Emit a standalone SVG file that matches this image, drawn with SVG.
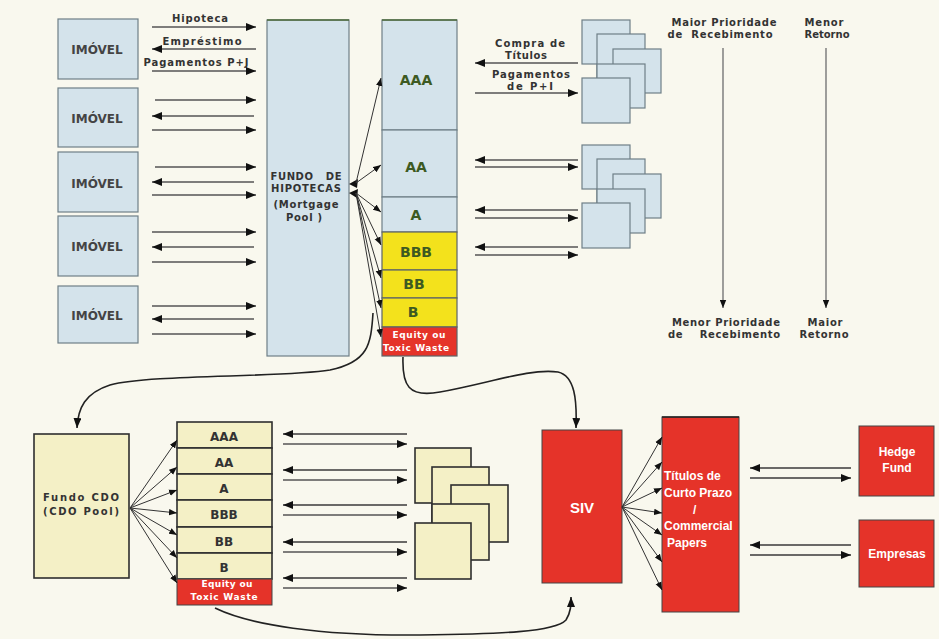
<svg xmlns="http://www.w3.org/2000/svg" width="939" height="639" viewBox="0 0 939 639">
  <defs>
    <marker id="ah" viewBox="0 0 10 8" refX="10" refY="4" markerWidth="10" markerHeight="8" markerUnits="userSpaceOnUse" orient="auto">
      <path d="M0,0 L10,4 L0,8 z" fill="#111"/>
    </marker>
    <marker id="ahs" viewBox="0 0 10 8" refX="10" refY="4" markerWidth="8" markerHeight="7" markerUnits="userSpaceOnUse" orient="auto">
      <path d="M0,0 L10,4 L0,8 z" fill="#111"/>
    </marker>
    <style>
      .lbl { font-family: "DejaVu Sans", Verdana, sans-serif; font-weight: bold; font-size: 10px; fill: #333; }
      .pre { white-space: pre; }
      .imv { font-family: "DejaVu Sans", Verdana, sans-serif; font-weight: bold; font-size: 12px; fill: #444; text-anchor: middle; }
      .blue { fill: #d4e3eb; stroke: #6e7f87; stroke-width: 1.2; }
      .yel { fill: #f3e21c; stroke: #5d6468; stroke-width: 1.2; }
      .red { fill: #e53329; stroke: #5d6468; stroke-width: 1.2; }
      .pale { fill: #f4f0c6; stroke: #2e2e2e; stroke-width: 1.6; }
      .redb { fill: #e53329; stroke: #444; stroke-width: 1; }
      .tr { font-family: "DejaVu Sans", Verdana, sans-serif; font-size: 14px; font-weight: bold; fill: #3d5a22; text-anchor: middle; }
      .tr2 { font-family: "DejaVu Sans", Verdana, sans-serif; font-size: 12px; font-weight: bold; fill: #333; text-anchor: middle; }
      .eq { font-family: "DejaVu Sans", Verdana, sans-serif; font-size: 9px; font-weight: bold; fill: #fff; text-anchor: middle; }
      .wt { font-family: "Liberation Sans", Arial, sans-serif; font-weight: bold; fill: #fff; }
      .ln { fill: none; stroke: #3a3a3a; stroke-width: 1.3; marker-end: url(#ah); }
      .lg { fill: none; stroke: #555; stroke-width: 1.3; marker-end: url(#ah); }
      .fan { fill: none; stroke: #333; stroke-width: 1; marker-end: url(#ahs); }
      .cv { fill: none; stroke: #222; stroke-width: 1.6; marker-end: url(#ah); }
      .vt { fill: none; stroke: #777; stroke-width: 1.4; marker-end: url(#ahs); }
    </style>
  </defs>

  <rect x="0" y="0" width="939" height="639" fill="#f9f8ee"/>

  <!-- properties -->
  <g id="imovel1"><rect class="blue" x="58" y="19" width="80" height="60"/><text class="imv" x="97" y="54">IMÓVEL</text></g>
  <g id="imovel2"><rect class="blue" x="58" y="88" width="80" height="59"/><text class="imv" x="97" y="123">IMÓVEL</text></g>
  <g id="imovel3"><rect class="blue" x="58" y="152" width="80" height="60"/><text class="imv" x="97" y="188">IMÓVEL</text></g>
  <g id="imovel4"><rect class="blue" x="58" y="216" width="80" height="60"/><text class="imv" x="97" y="251">IMÓVEL</text></g>
  <g id="imovel5"><rect class="blue" x="58" y="286" width="80" height="57"/><text class="imv" x="97" y="320">IMÓVEL</text></g>

  <!-- mortgage pool -->
  <g id="fundo-hipotecas">
    <rect class="blue" x="267" y="20" width="82" height="336"/>
    <line x1="267" y1="20" x2="349" y2="20" stroke="#4d6a3a" stroke-width="1.4"/>
    <text class="lbl pre" x="306" y="180" text-anchor="middle" textLength="71">FUNDO   DE</text>
    <text class="lbl" x="306" y="192" text-anchor="middle" textLength="70">HIPOTECAS</text>
    <text class="lbl" x="306" y="208" text-anchor="middle" textLength="65">(Mortgage</text>
    <text class="lbl" x="304" y="221" text-anchor="middle" textLength="36">Pool )</text>
  </g>

  <!-- tranches of the mortgage pool -->
  <g id="tranches-mbs">
    <rect class="blue" x="382" y="20" width="75" height="110"/>
    <line x1="382" y1="20" x2="457" y2="20" stroke="#4d6a3a" stroke-width="1.4"/>
    <rect class="blue" x="382" y="130" width="75" height="67"/>
    <rect class="blue" x="382" y="197" width="75" height="35"/>
    <rect class="yel" x="382" y="232" width="75" height="38"/>
    <rect class="yel" x="382" y="270" width="75" height="28"/>
    <rect class="yel" x="382" y="298" width="75" height="29"/>
    <rect class="red" x="382" y="327" width="75" height="29"/>
    <text class="tr" x="416" y="85">AAA</text>
    <text class="tr" x="416" y="172">AA</text>
    <text class="tr" x="416" y="220">A</text>
    <text class="tr" x="416" y="257" fill="#333">BBB</text>
    <text class="tr" x="414" y="289" fill="#333">BB</text>
    <text class="tr" x="413" y="317" fill="#333">B</text>
    <text class="eq" x="419" y="338" textLength="53">Equity ou</text>
    <text class="eq" x="416" y="351" textLength="66">Toxic Waste</text>
  </g>

  <!-- investor groups (top) -->
  <g id="investidores-1" class="blue">
    <rect x="582" y="20" width="48" height="44"/>
    <rect x="597" y="34" width="48" height="44"/>
    <rect x="613" y="49" width="48" height="44"/>
    <rect x="597" y="64" width="48" height="44"/>
    <rect x="582" y="78" width="48" height="45"/>
  </g>
  <g id="investidores-2" class="blue">
    <rect x="582" y="145" width="48" height="44"/>
    <rect x="597" y="159" width="48" height="44"/>
    <rect x="613" y="174" width="48" height="44"/>
    <rect x="597" y="189" width="48" height="44"/>
    <rect x="582" y="203" width="48" height="45"/>
  </g>

  <!-- priority / return scales -->
  <g id="escala-prioridade">
    <text class="lbl" x="724" y="26" text-anchor="middle" textLength="105">Maior Prioridade</text>
    <text class="lbl pre" x="720" y="38" text-anchor="middle" textLength="105">de  Recebimento</text>
    <text class="lbl" x="726" y="326" text-anchor="middle" textLength="108">Menor Prioridade</text>
    <text class="lbl pre" x="724" y="338" text-anchor="middle" textLength="112">de    Recebimento</text>
  </g>
  <g id="escala-retorno">
    <text class="lbl" x="824" y="26" text-anchor="middle" textLength="39">Menor</text>
    <text class="lbl" x="827" y="38" text-anchor="middle" textLength="45">Retorno</text>
    <text class="lbl" x="825" y="326" text-anchor="middle" textLength="35">Maior</text>
    <text class="lbl" x="824" y="338" text-anchor="middle" textLength="49">Retorno</text>
  </g>

  <!-- CDO pool -->
  <g id="fundo-cdo">
    <rect class="pale" x="34" y="434" width="95" height="144"/>
    <text class="lbl" x="81" y="501" text-anchor="middle" font-size="12" textLength="76">Fundo CDO</text>
    <text class="lbl" x="81" y="515" text-anchor="middle" font-size="12" textLength="76">(CDO Pool)</text>
  </g>

  <!-- CDO tranches -->
  <g id="tranches-cdo">
    <rect class="pale" x="177" y="422" width="95" height="26"/>
    <rect class="pale" x="177" y="448" width="95" height="26"/>
    <rect class="pale" x="177" y="474" width="95" height="26"/>
    <rect class="pale" x="177" y="500" width="95" height="27"/>
    <rect class="pale" x="177" y="527" width="95" height="26"/>
    <rect class="pale" x="177" y="553" width="95" height="26"/>
    <rect x="177" y="579" width="95" height="26" fill="#e53329" stroke="#444" stroke-width="1"/>
    <text class="tr2" x="224" y="441">AAA</text>
    <text class="tr2" x="224" y="467">AA</text>
    <text class="tr2" x="224" y="493">A</text>
    <text class="tr2" x="224" y="519">BBB</text>
    <text class="tr2" x="224" y="546">BB</text>
    <text class="tr2" x="224" y="572">B</text>
    <text class="eq" x="227" y="587" textLength="51">Equity ou</text>
    <text class="eq" x="224" y="600" textLength="67">Toxic Waste</text>
  </g>

  <!-- investor group (bottom) -->
  <g id="investidores-3" class="pale">
    <rect x="415" y="448" width="56" height="55"/>
    <rect x="432" y="467" width="57" height="55"/>
    <rect x="451" y="485" width="57" height="57"/>
    <rect x="432" y="504" width="57" height="56"/>
    <rect x="415" y="523" width="56" height="56"/>
  </g>

  <!-- SIV -->
  <g id="siv">
    <rect class="redb" x="542" y="430" width="80" height="153"/>
    <text class="wt" x="582" y="513" text-anchor="middle" font-size="15">SIV</text>
  </g>

  <!-- short-term paper -->
  <g id="titulos-curto-prazo">
    <rect class="redb" x="662" y="417" width="77" height="195"/>
    <line x1="662" y1="417" x2="739" y2="417" stroke="#222" stroke-width="1.6"/>
    <text class="wt" x="664" y="480" font-size="12">Títulos de</text>
    <text class="wt" x="664" y="497" font-size="12">Curto Prazo</text>
    <text class="wt" x="693" y="514" font-size="12">/</text>
    <text class="wt" x="664" y="530" font-size="12">Commercial</text>
    <text class="wt" x="667" y="547" font-size="12">Papers</text>
  </g>

  <g id="hedge-fund">
    <rect class="redb" x="859" y="426" width="75" height="70"/>
    <text class="wt" x="897" y="456" text-anchor="middle" font-size="12">Hedge</text>
    <text class="wt" x="897" y="472" text-anchor="middle" font-size="12">Fund</text>
  </g>
  <g id="empresas">
    <rect class="redb" x="859" y="520" width="75" height="67"/>
    <text class="wt" x="897" y="558" text-anchor="middle" font-size="12">Empresas</text>
  </g>

  <!-- connectors -->
  <g id="conectores">
    <!-- property <-> mortgage pool -->
    <text class="lbl" x="200" y="22" text-anchor="middle" textLength="56">Hipoteca</text>
    <text class="lbl" x="202" y="45" text-anchor="middle" textLength="79">Empréstimo</text>
    <text class="lbl" x="196" y="66" text-anchor="middle" textLength="105">Pagamentos P+J</text>
    <line class="lg" x1="152" y1="27" x2="256" y2="27"/>
    <line class="lg" x1="256" y1="49" x2="152" y2="49"/>
    <line class="lg" x1="152" y1="71" x2="256" y2="71"/>
    <line class="lg" x1="155" y1="100" x2="256" y2="100"/>
    <line class="lg" x1="254" y1="116" x2="152" y2="116"/>
    <line class="lg" x1="152" y1="130" x2="256" y2="130"/>
    <line class="lg" x1="155" y1="167" x2="256" y2="167"/>
    <line class="lg" x1="254" y1="182" x2="152" y2="182"/>
    <line class="lg" x1="152" y1="195" x2="256" y2="195"/>
    <line class="lg" x1="152" y1="232" x2="256" y2="232"/>
    <line class="lg" x1="254" y1="247" x2="152" y2="247"/>
    <line class="lg" x1="152" y1="262" x2="256" y2="262"/>
    <line class="lg" x1="152" y1="306" x2="256" y2="306"/>
    <line class="lg" x1="254" y1="319" x2="152" y2="319"/>
    <line class="lg" x1="152" y1="334" x2="256" y2="334"/>

    <!-- mortgage pool fan to tranches -->
    <polygon points="349,184 358,179 357,188" fill="#111"/>
    <polygon points="349,193 358,189 357,198" fill="#111"/>
    <path class="fan" d="M356,183 L381,78"/>
    <path class="fan" d="M356,183 L381,165"/>
    <path class="fan" d="M356,193 L381,212"/>
    <path class="fan" d="M356,193 L381,245"/>
    <path class="fan" d="M356,193 L381,278"/>
    <path class="fan" d="M356,193 L381,308"/>
    <path class="fan" d="M356,193 L381,337"/>

    <!-- tranches <-> investors (top) -->
    <text class="lbl" x="530" y="47" text-anchor="middle" textLength="70">Compra de</text>
    <text class="lbl" x="526" y="59" text-anchor="middle" textLength="42">Títulos</text>
    <text class="lbl" x="531" y="78" text-anchor="middle" textLength="78">Pagamentos</text>
    <text class="lbl" x="530" y="90" text-anchor="middle" textLength="46">de P+I</text>
    <line class="lg" x1="578" y1="63" x2="475" y2="63"/>
    <line class="lg" x1="475" y1="93" x2="578" y2="93"/>
    <line class="lg" x1="578" y1="160" x2="475" y2="160"/>
    <line class="lg" x1="475" y1="167" x2="578" y2="167"/>
    <line class="lg" x1="578" y1="210" x2="475" y2="210"/>
    <line class="lg" x1="475" y1="218" x2="578" y2="218"/>
    <line class="lg" x1="578" y1="247" x2="475" y2="247"/>
    <line class="lg" x1="475" y1="255" x2="578" y2="255"/>

    <!-- scale arrows -->
    <line class="vt" x1="723" y1="48" x2="723" y2="308"/>
    <line class="vt" x1="826" y1="48" x2="826" y2="308"/>

    <!-- equity flows -->
    <path class="cv" d="M373,313 C371,345 368,362 330,370 C280,378 150,374 110,385 C85,393 78,408 77,428"/>
    <path class="cv" d="M403,357 C402,385 408,398 440,392 C490,383 530,368 558,372 C575,376 577,400 576,428"/>
    <path class="cv" d="M215,608 C250,625 320,636 420,635 C500,634 555,632 566,620 C571,612 571,605 571,597"/>

    <!-- CDO pool fan -->
    <path class="fan" d="M130,508 L177,440"/>
    <path class="fan" d="M130,508 L177,467"/>
    <path class="fan" d="M130,508 L177,490"/>
    <path class="fan" d="M130,508 L177,513"/>
    <path class="fan" d="M130,508 L177,535"/>
    <path class="fan" d="M130,508 L177,558"/>
    <path class="fan" d="M130,508 L177,583"/>

    <!-- CDO tranches <-> investors -->
    <line class="ln" x1="407" y1="434" x2="283" y2="434"/>
    <line class="lg" x1="283" y1="444" x2="407" y2="444"/>
    <line class="ln" x1="407" y1="470" x2="283" y2="470"/>
    <line class="lg" x1="283" y1="480" x2="407" y2="480"/>
    <line class="ln" x1="407" y1="505" x2="283" y2="505"/>
    <line class="lg" x1="283" y1="515" x2="407" y2="515"/>
    <line class="ln" x1="407" y1="542" x2="283" y2="542"/>
    <line class="lg" x1="283" y1="552" x2="407" y2="552"/>
    <line class="ln" x1="407" y1="578" x2="283" y2="578"/>
    <line class="lg" x1="283" y1="588" x2="407" y2="588"/>

    <!-- SIV fan -->
    <path class="fan" d="M622,507 L662,437"/>
    <path class="fan" d="M622,507 L662,462"/>
    <path class="fan" d="M622,507 L662,488"/>
    <path class="fan" d="M622,507 L662,513"/>
    <path class="fan" d="M622,507 L662,535"/>
    <path class="fan" d="M622,507 L662,562"/>
    <path class="fan" d="M622,507 L662,590"/>

    <!-- short-term paper <-> buyers -->
    <line class="ln" x1="851" y1="468" x2="750" y2="468"/>
    <line class="ln" x1="750" y1="478" x2="851" y2="478"/>
    <line class="ln" x1="851" y1="545" x2="750" y2="545"/>
    <line class="ln" x1="750" y1="555" x2="851" y2="555"/>
  </g>
</svg>
